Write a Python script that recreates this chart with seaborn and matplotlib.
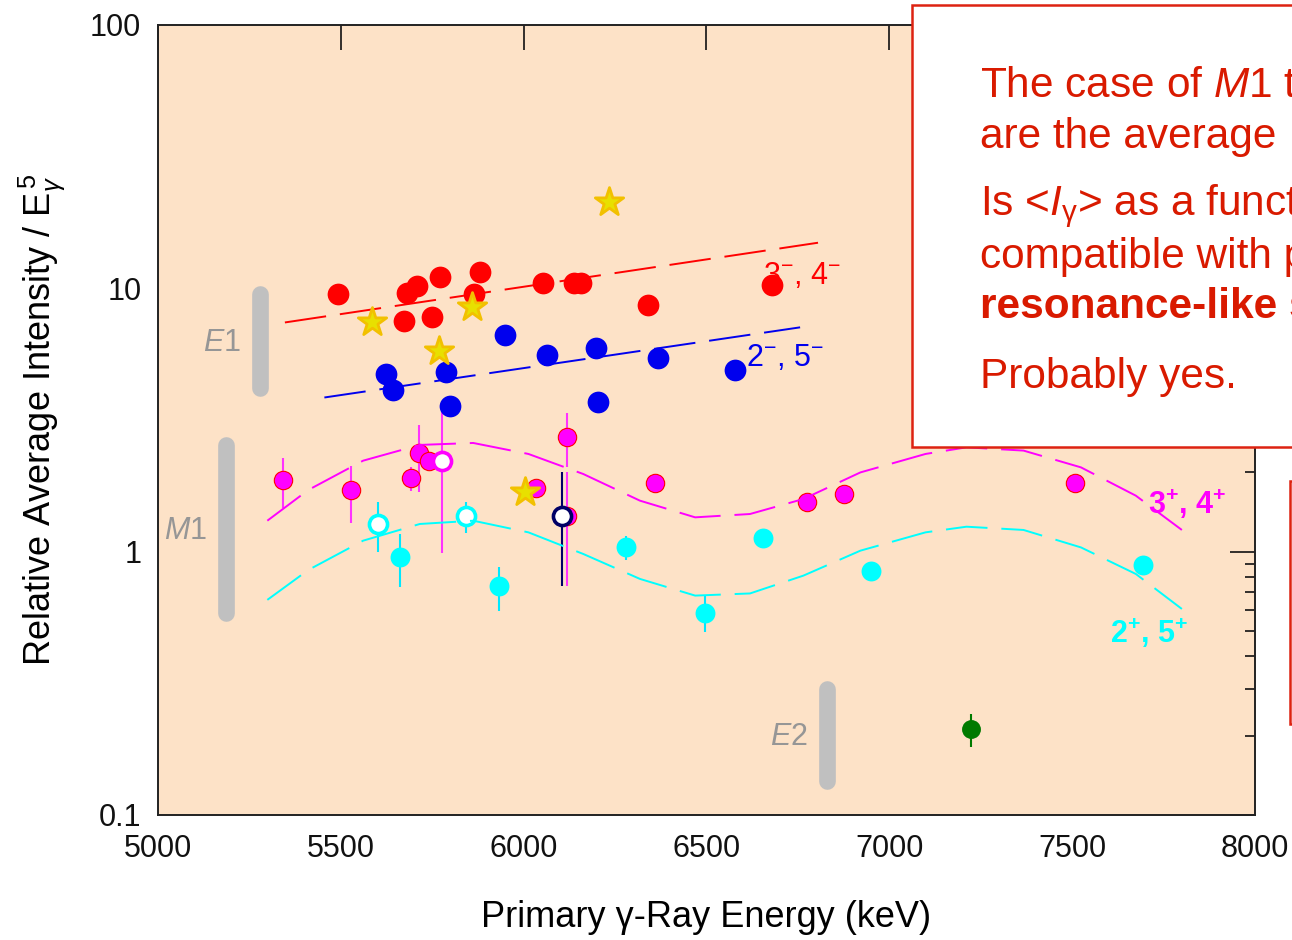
import numpy as np
import matplotlib
matplotlib.use("Agg")
import matplotlib.pyplot as plt
from matplotlib.patches import Rectangle
from matplotlib.ticker import FixedLocator, FuncFormatter, LogLocator, NullFormatter
import seaborn as sns

# ── data ──────────────────────────────────────────────────────
# 3-, 4- (red) and 2-, 5- (blue) average intensities
red_x = [5493, 5680, 5709, 5771, 5881, 5865, 5674, 5748, 6052, 6138, 6156, 6341, 6678]
red_y = [9.52, 9.56, 10.18, 11.0, 11.5, 9.52, 7.52, 7.81, 10.48, 10.45, 10.5, 8.65, 10.3]

blue_x = [5623, 5642, 5788, 5799, 5950, 6063, 6197, 6202, 6367, 6579]
blue_y = [4.73, 4.11, 4.83, 3.58, 6.67, 5.58, 5.94, 3.70, 5.44, 4.91]

star_x = [5586, 5769, 5858, 6232, 6004]
star_y = [7.47, 5.80, 8.47, 21.3, 1.68]

# 3+, 4+ (magenta), error bars lo/hi (nan = no bar)
mag_x = [5343, 5528, 5691, 5714, 5741, 6035, 6118, 6118, 6359, 6776, 6876, 7509]
mag_y = [1.87, 1.71, 1.91, 2.37, 2.20, 1.75, 2.72, 1.37, 1.82, 1.55, 1.66, 1.82]
mag_lo = [1.47, 1.28, 1.70, 1.68, np.nan, np.nan, 2.09, 0.74, np.nan, np.nan, np.nan, np.nan]
mag_hi = [2.26, 2.12, 2.10, 3.04, np.nan, np.nan, 3.36, 2.00, np.nan, np.nan, np.nan, np.nan]

mag_open_x = [5778]
mag_open_y = [2.20]
mag_open_lo = [0.99]
mag_open_hi = [3.58]

# 2+, 5+ (cyan)
cyan_x = [5663, 5933, 6279, 6497, 6655, 6951, 7693]
cyan_y = [0.957, 0.739, 1.045, 0.587, 1.13, 0.847, 0.893]
cyan_lo = [0.732, 0.597, 0.93, 0.494, np.nan, np.nan, np.nan]
cyan_hi = [1.17, 0.877, 1.15, 0.68, np.nan, np.nan, np.nan]

cyan_open_x = [5603, 5842]
cyan_open_y = [1.27, 1.37]
cyan_open_lo = [0.994, 1.18]
cyan_open_hi = [1.55, 1.55]

navy_x = [6106]
navy_y = [1.37]
navy_lo = [0.74]
navy_hi = [2.00]

green_x = [7223]
green_y = [0.212]
green_lo = [0.182]
green_hi = [0.242]

# fitted trends
red_line_x = [5347, 6805]
red_line_y = [7.42, 14.9]
blue_line_x = [5455, 6756]
blue_line_y = [3.85, 7.11]

curve_x = [5299, 5411, 5561, 5716, 5862, 6013, 6163, 6318, 6469, 6619,
           6765, 6921, 7099, 7211, 7367, 7524, 7674, 7800]
mag_curve_y = [1.311, 1.715, 2.216, 2.543, 2.587, 2.35, 1.972, 1.562, 1.35, 1.39,
               1.585, 2.0, 2.35, 2.49, 2.42, 2.09, 1.632, 1.209]
cyan_curve_y = [0.656, 0.852, 1.101, 1.274, 1.311, 1.184, 0.98, 0.788, 0.681, 0.694,
                0.811, 1.009, 1.184, 1.244, 1.209, 1.038, 0.823, 0.606]

# grey multipolarity ranges
band_names = ["$\\mathit{E}$1", "$\\mathit{M}$1", "$\\mathit{E}$2"]
band_x = [5279, 5186, 6829]
band_lo = [4.20, 0.587, 0.135]
band_hi = [9.55, 2.55, 0.302]

x_ticks = [5000, 5500, 6000, 6500, 7000, 7500, 8000]
y_ticks = [0.1, 1, 10, 100]

# ── style ──────────────────────────────────────────────────────
sns.set_theme(style="white")
plt.rcParams["font.family"] = ["Liberation Sans", "DejaVu Sans"]
plt.rcParams["mathtext.fontset"] = "custom"
plt.rcParams["mathtext.rm"] = "Liberation Sans"
plt.rcParams["mathtext.it"] = "Liberation Sans:italic"
plt.rcParams["mathtext.bf"] = "Liberation Sans:bold"
plt.rcParams["lines.scale_dashes"] = False

fig = plt.figure(figsize=(12.92, 9.40), dpi=100)
ax = fig.add_axes([158 / 1292, 1 - 815 / 940, 1097 / 1292, 790 / 940])
ax.set_facecolor("#fde2c7")
ax.set_yscale("log")
ax.set_xlim(5000, 8000)
ax.set_ylim(0.1, 100)

# grey bars
for name, bx, lo, hi in zip(band_names, band_x, band_lo, band_hi):
    ax.plot([bx, bx], [lo, hi], color="#c0c0c0", lw=12, solid_capstyle="round", zorder=1)
    ax.annotate(name, (bx, np.sqrt(lo * hi)), xytext=(-14, -2), textcoords="offset points",
                ha="right", va="center", fontsize=22, color="#969696")

# error bars
ax.vlines(mag_x, mag_lo, mag_hi, colors="#ff33ff", lw=1.5, zorder=2)
ax.vlines(mag_open_x, mag_open_lo, mag_open_hi, colors="#ff33ff", lw=1.5, zorder=2)
ax.vlines(cyan_x, cyan_lo, cyan_hi, colors="#00e8ff", lw=1.5, zorder=2)
ax.vlines(cyan_open_x, cyan_open_lo, cyan_open_hi, colors="#00e8ff", lw=1.5, zorder=2)
ax.vlines(navy_x, navy_lo, navy_hi, colors="#000066", lw=1.5, zorder=2)
ax.vlines(green_x, green_lo, green_hi, colors="#007a00", lw=1.5, zorder=2)

# points
sns.scatterplot(x=red_x, y=red_y, ax=ax, color="#ff0000", s=245, linewidth=0, zorder=3, legend=False)
sns.scatterplot(x=blue_x, y=blue_y, ax=ax, color="#0000ee", s=245, linewidth=0, zorder=3, legend=False)
sns.scatterplot(x=mag_x, y=mag_y, ax=ax, color="#ff00ff", s=175, edgecolor="#ff0000",
                linewidth=0.8, zorder=3, legend=False)
sns.scatterplot(x=mag_open_x, y=mag_open_y, ax=ax, color="white", s=170, edgecolor="#ff00ff",
                linewidth=2.6, zorder=3, legend=False)
sns.scatterplot(x=cyan_x, y=cyan_y, ax=ax, color="#00ffff", s=205, linewidth=0, zorder=3, legend=False)
sns.scatterplot(x=cyan_open_x, y=cyan_open_y, ax=ax, color="white", s=170, edgecolor="#00ffff",
                linewidth=2.6, zorder=3, legend=False)
sns.scatterplot(x=navy_x, y=navy_y, ax=ax, color="white", s=170, edgecolor="#000066",
                linewidth=2.6, zorder=3, legend=False)
sns.scatterplot(x=green_x, y=green_y, ax=ax, color="#007a00", s=185, linewidth=0, zorder=3, legend=False)
sns.scatterplot(x=star_x, y=star_y, ax=ax, color="#e8e000", marker="*", s=460, edgecolor="#f2c000",
                linewidth=2.0, zorder=5, legend=False)

# dashed trend curves
dash = (0, (30, 10))
sns.lineplot(x=red_line_x, y=red_line_y, ax=ax, color="#ff0000", lw=1.4, linestyle=dash, zorder=4)
sns.lineplot(x=blue_line_x, y=blue_line_y, ax=ax, color="#0000ee", lw=1.4, linestyle=dash, zorder=4)
sns.lineplot(x=curve_x, y=mag_curve_y, ax=ax, color="#ff00ff", lw=1.4, linestyle=dash, zorder=4)
sns.lineplot(x=curve_x, y=cyan_curve_y, ax=ax, color="#00ffff", lw=1.4, linestyle=dash, zorder=4)

# series labels
ax.text(6654, 10.42, "3$^{-}$, 4$^{-}$", color="#ff0000", fontsize=22, ha="left", va="baseline", zorder=6)
ax.text(6608, 5.09, "2$^{-}$, 5$^{-}$", color="#0000ee", fontsize=22, ha="left", va="baseline", zorder=6)
ax.text(7707, 1.394, "3$^{\\mathbf{+}}$, 4$^{\\mathbf{+}}$", color="#ff00ff", fontsize=22,
        fontweight="bold", ha="left", va="baseline", zorder=6)
ax.text(7603, 0.451, "2$^{\\mathbf{+}}$, 5$^{\\mathbf{+}}$", color="#00ffff", fontsize=22,
        fontweight="bold", ha="left", va="baseline", zorder=6)

# axes, ticks
ax.xaxis.set_major_locator(FixedLocator(x_ticks))
ax.yaxis.set_major_locator(FixedLocator(y_ticks))
ax.yaxis.set_minor_locator(LogLocator(base=10, subs=np.arange(2, 10)))
ax.yaxis.set_minor_formatter(NullFormatter())
ax.yaxis.set_major_formatter(FuncFormatter(lambda v, _: f"{v:g}"))
ax.tick_params(which="both", direction="in", top=True, right=True, width=1.2, colors="#111111")
ax.tick_params(which="major", length=18, labelsize=22, pad=12)
ax.tick_params(axis="x", which="major", pad=14)
ax.tick_params(which="minor", length=7)
for sp in ax.spines.values():
    sp.set_linewidth(1.4)
    sp.set_color("#222222")

ax.set_xlabel("Primary γ-Ray Energy (keV)", fontsize=26, color="black")
ax.set_ylabel("Relative Average Intensity / E$_{\\gamma}^{\\,5}$", fontsize=26, color="black")
ax.xaxis.set_label_coords(0.5, -0.108)
ax.yaxis.set_label_coords(-0.082, 0.5)

# text boxes on top
fig.add_artist(Rectangle((912 / 1292, 1 - 447 / 940), 0.5, 442 / 940, transform=fig.transFigure,
                         facecolor="white", edgecolor="#dd2211", lw=1.8, zorder=10))
fig.add_artist(Rectangle((1290 / 1292, 1 - 724 / 940), 0.5, 243 / 940, transform=fig.transFigure,
                         facecolor="white", edgecolor="#dd2211", lw=1.8, zorder=10))

box_lines = [
    ("The case of $\\mathit{M}$1 transitions: where", 97, "normal"),
    ("are the average  intensities", 148, "normal"),
    ("Is <$\\mathit{I}_{\\mathrm{\\gamma}}$> as a function of energy", 215, "normal"),
    ("compatible with pygmy", 268, "normal"),
    ("resonance-like structures?", 318, "bold"),
    ("Probably yes.", 388, "normal"),
]
for txt, base, weight in box_lines:
    fig.text(980 / 1292, 1 - base / 940, txt, color="#d91a00", fontsize=30.5, fontweight=weight,
             ha="left", va="baseline", zorder=11)

plt.savefig("out.png", dpi=100)
plt.close()
print("saved")
